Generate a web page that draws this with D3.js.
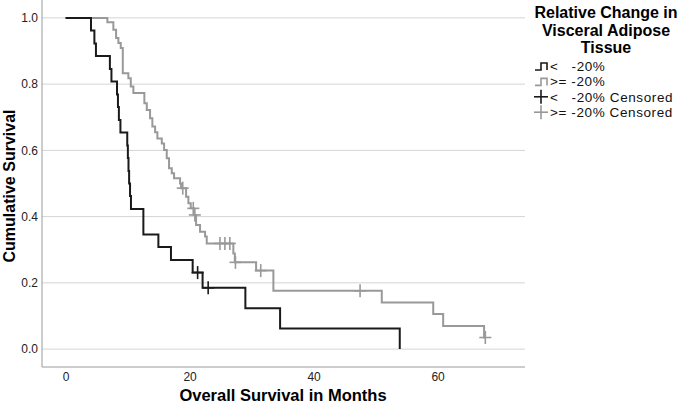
<!DOCTYPE html>
<html><head><meta charset="utf-8">
<script src="https://cdn.jsdelivr.net/npm/d3@7"></script>
<style>
html,body{margin:0;padding:0;background:#fff;}
svg{display:block;font-family:"Liberation Sans",Arial,sans-serif;}
</style></head>
<body><svg id="chart" width="685" height="405"></svg>
<script>
// ---- data (months, cumulative survival) ----
const blackTimes = [0, 4.1, 4.65, 4.9, 7.15, 7.4, 8.3, 8.45, 8.6, 8.85, 9.95, 10.05, 10.15, 10.25, 10.4, 10.55, 12.55, 14.97, 17.0, 20.5, 22.1, 29.0, 34.6, 53.9];
const blackSurv  = [1, 0.962, 0.923, 0.885, 0.846, 0.808, 0.769, 0.731, 0.692, 0.654, 0.615, 0.577, 0.538, 0.5, 0.462, 0.423, 0.346, 0.308, 0.269, 0.231, 0.185, 0.123, 0.062, 0];
const blackCensorTimes = [21.3, 23.0];
const blackCensorSurv  = [0.231, 0.185];

const grayTimes = [0, 6.74, 7.71, 8.15, 8.52, 8.9, 9.23, 10.13, 10.52, 10.94, 12.71, 13.1, 13.63, 14.0, 14.44, 14.81, 15.52, 15.89, 16.32, 16.69, 17.13, 17.5, 18.47, 18.63, 19.44, 19.81, 20.19, 20.7, 21.05, 21.69, 22.5, 22.77, 27.06, 27.3, 30.73, 33.52, 51.0, 59.3, 60.9, 67.5, 67.7];
const graySurv  = [1, 0.987, 0.964, 0.939, 0.924, 0.909, 0.833, 0.818, 0.793, 0.773, 0.742, 0.722, 0.697, 0.672, 0.655, 0.636, 0.621, 0.601, 0.576, 0.546, 0.531, 0.516, 0.5, 0.486, 0.46, 0.44, 0.425, 0.405, 0.375, 0.354, 0.34, 0.319, 0.289, 0.262, 0.237, 0.176, 0.141, 0.106, 0.070, 0.035, 0.035];
const grayCensorTimes = [18.9, 20.6, 20.85, 24.9, 25.7, 26.5, 27.4, 31.48, 47.5, 67.7];
const grayCensorSurv  = [0.486, 0.425, 0.405, 0.319, 0.319, 0.319, 0.262, 0.237, 0.176, 0.035];

const xTicks = [0, 20, 40, 60];
const yTicks = [0, 0.2, 0.4, 0.6, 0.8, 1.0];
const legendTitle = ["Relative Change in", "Visceral Adipose", "Tissue"];
const legendLabels = ["<   -20%", ">= -20%", "<   -20% Censored", ">= -20% Censored"];
const seriesColors = ["#1a1a1a", "#999999"];

// ---- layout ----
const svg = d3.select("#chart");
const L = 42, R = 525, T = 0, B = 367;
const x = d3.scaleLinear().domain([-3.8, 74.1]).range([L, R]);
const y = d3.scaleLinear().domain([-0.054, 1.054]).range([B, T]);

// gridlines
svg.append("g").selectAll("line").data(yTicks).join("line")
  .attr("x1", L).attr("x2", R)
  .attr("y1", d => y(d)).attr("y2", d => y(d))
  .attr("stroke", "#d4d4d4").attr("stroke-width", 1);

// axes frame
svg.append("line").attr("x1", L).attr("x2", L).attr("y1", T).attr("y2", B).attr("stroke", "#9a9a9a");
svg.append("line").attr("x1", L).attr("x2", R).attr("y1", B).attr("y2", B).attr("stroke", "#9a9a9a");

// y axis labels
const yAxis = d3.axisLeft(y).tickValues(yTicks).tickFormat(d3.format(".1f")).tickSize(0).tickPadding(4);
const gy = svg.append("g").attr("transform", `translate(${L},0)`).call(yAxis);
gy.select(".domain").remove();
gy.selectAll("text").attr("font-size", 12).attr("fill", "#222").attr("font-family", "Liberation Sans, Arial, sans-serif");

// x axis labels
const xAxis = d3.axisBottom(x).tickValues(xTicks).tickFormat(d3.format("d")).tickSize(0).tickPadding(5);
const gx = svg.append("g").attr("transform", `translate(0,${B})`).call(xAxis);
gx.select(".domain").remove();
gx.selectAll("text").attr("font-size", 12).attr("fill", "#222").attr("font-family", "Liberation Sans, Arial, sans-serif");

// axis titles
svg.append("text").attr("x", 283).attr("y", 401).attr("text-anchor", "middle")
  .attr("font-size", 16.5).attr("font-weight", "bold").attr("fill", "#000").text("Overall Survival in Months");
svg.append("text").attr("transform", "translate(15,186) rotate(-90)").attr("text-anchor", "middle")
  .attr("font-size", 16).attr("font-weight", "bold").attr("fill", "#000").text("Cumulative Survival");

// curves
const line = d3.line().x(d => x(d[0])).y(d => y(d[1])).curve(d3.curveStepAfter);
const gray = d3.zip(grayTimes, graySurv);
const black = d3.zip(blackTimes, blackSurv);
svg.append("path").attr("d", line(gray)).attr("fill", "none").attr("stroke", seriesColors[1]).attr("stroke-width", 2);
svg.append("path").attr("d", line(black)).attr("fill", "none").attr("stroke", seriesColors[0]).attr("stroke-width", 2);

// censor marks
function crosses(ts, ss, color) {
  const g = svg.append("g").attr("stroke", color).attr("stroke-width", 1.6);
  d3.zip(ts, ss).forEach(([t, s]) => {
    const cx = x(t), cy = y(s);
    g.append("line").attr("x1", cx - 6).attr("x2", cx + 6).attr("y1", cy).attr("y2", cy);
    g.append("line").attr("x1", cx).attr("x2", cx).attr("y1", cy - 6.5).attr("y2", cy + 6.5);
  });
}
crosses(grayCensorTimes, grayCensorSurv, seriesColors[1]);
crosses(blackCensorTimes, blackCensorSurv, seriesColors[0]);

// legend
const lg = svg.append("g");
legendTitle.forEach((t, i) => {
  lg.append("text").attr("x", 606).attr("y", 18 + i * 17.5).attr("text-anchor", "middle")
    .attr("font-size", 16).attr("font-weight", "bold").attr("fill", "#000").text(t);
});
legendLabels.forEach((t, i) => {
  const cy = 66 + i * 15.4;
  const col = seriesColors[i % 2];
  if (i < 2) {
    lg.append("path").attr("d", `M535,${cy + 4} H541 V${cy - 3} H547 V${cy + 4}`)
      .attr("fill", "none").attr("stroke", col).attr("stroke-width", 1.6);
  } else {
    lg.append("line").attr("x1", 534).attr("x2", 548).attr("y1", cy).attr("y2", cy).attr("stroke", col).attr("stroke-width", 1.6);
    lg.append("line").attr("x1", 541).attr("x2", 541).attr("y1", cy - 7).attr("y2", cy + 7).attr("stroke", col).attr("stroke-width", 1.6);
  }
  lg.append("text").attr("x", 550).attr("y", cy + 4.8).attr("font-size", 13.5).attr("letter-spacing", 0.6)
    .attr("fill", "#111").style("white-space", "pre").text(t);
});
</script></body></html>
